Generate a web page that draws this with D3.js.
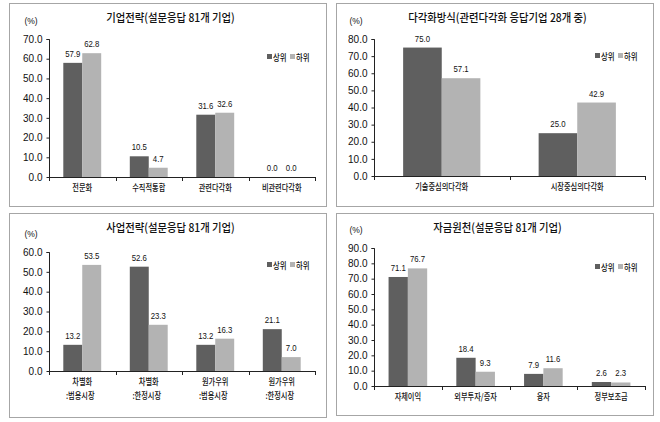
<!DOCTYPE html>
<html><head><meta charset="utf-8">
<script src="https://cdn.jsdelivr.net/npm/d3@7"></script>
<style>
body{margin:0;background:#fff;}
text{font-family:"Liberation Sans",Arial,"Noto Sans CJK KR",sans-serif;fill:#111;}
.kr{font-family:"Noto Sans CJK KR","Liberation Sans",sans-serif;}
</style></head>
<body>
<svg id="c" width="660" height="422"></svg>
<script>
const seriesNames = ["상위", "하위"];

const titles = ["기업전략(설문응답 81개 기업)", "다각화방식(관련다각화 응답기업 28개 중)", "사업전략(설문응답 81개 기업)", "자금원천(설문응답 81개 기업)"];

const cats1 = ["전문화", "수직적통합", "관련다각화", "비관련다각화"];
const top1 = [57.9, 10.5, 31.6, 0.0];
const low1 = [62.8, 4.7, 32.6, 0.0];
const ticks1 = [0, 10, 20, 30, 40, 50, 60, 70];

const cats2 = ["기술중심의다각화", "시장중심의다각화"];
const top2 = [75.0, 25.0];
const low2 = [57.1, 42.9];
const ticks2 = [0, 10, 20, 30, 40, 50, 60, 70, 80];

const cats3 = [["차별화", ":범용시장"], ["차별화", ":한정시장"], ["원가우위", ":범용시장"], ["원가우위", ":한정시장"]];
const top3 = [13.2, 52.6, 13.2, 21.1];
const low3 = [53.5, 23.3, 16.3, 7.0];
const ticks3 = [0, 10, 20, 30, 40, 50, 60];

const cats4 = ["자체이익", "외부투자/증자", "융자", "정부보조금"];
const top4 = [71.1, 18.4, 7.9, 2.6];
const low4 = [76.7, 9.3, 11.6, 2.3];
const ticks4 = [0, 10, 20, 30, 40, 50, 60, 70, 80, 90];

const colors = ["#5f5f5f", "#b3b3b3"];

const svg = d3.select("#c");

function squeeze(t, f) {
  const n = t.node().getComputedTextLength();
  t.attr("textLength", n * f).attr("lengthAdjust", "spacingAndGlyphs");
  return t;
}

const panels = [
  {box:[9,3,326,206], x0:49, x1:315, yTop:39, yBot:177, cats:cats1, a:top1, b:low1, ticks:ticks1, title:titles[0], legend:[267,57]},
  {box:[336,3,653,206], x0:374, x1:645, yTop:39, yBot:176, cats:cats2, a:top2, b:low2, ticks:ticks2, title:titles[1], legend:[595,56]},
  {box:[9,213,326,417], x0:49, x1:315, yTop:252, yBot:371, cats:cats3, a:top3, b:low3, ticks:ticks3, title:titles[2], legend:[267,265]},
  {box:[336,213,653,415], x0:374, x1:645, yTop:248, yBot:386, cats:cats4, a:top4, b:low4, ticks:ticks4, title:titles[3], legend:[595,267]}
];

panels.forEach(p => {
  const g = svg.append("g");
  const [bx0, by0, bx1, by1] = p.box;
  g.append("rect").attr("x", bx0 + 0.5).attr("y", by0 + 0.5).attr("width", bx1 - bx0).attr("height", by1 - by0)
    .attr("fill", "#fff").attr("stroke", "#a6a6a6").attr("stroke-width", 1);

  const idx = p.cats.map((c, i) => i);
  const x = d3.scaleBand().domain(idx).range([p.x0, p.x1]).paddingInner(0).paddingOuter(0);
  const ymax = p.ticks[p.ticks.length - 1];
  const y = d3.scaleLinear().domain([0, ymax]).range([p.yBot, p.yTop]);
  const groupW = x.bandwidth() * 0.57;
  const x1 = d3.scaleBand().domain([0, 1]).range([0, groupW]);

  // title
  squeeze(g.append("text").attr("class", "kr").attr("x", (bx0 + bx1) / 2 + 3).attr("y", by0 + 19)
    .attr("text-anchor", "middle").attr("font-size", 11.5).attr("font-weight", 500).text(p.title), 0.9);
  // unit
  g.append("text").attr("x", p.x0 - 18).attr("y", p.yTop - 15).attr("text-anchor", "middle")
    .attr("font-size", 8.5).text("(%)");

  // y axis
  const yAxis = d3.axisLeft(y).tickValues(p.ticks).tickFormat(d3.format(".1f")).tickSize(3).tickPadding(4);
  const ya = g.append("g").attr("transform", `translate(${p.x0 + 0.5},0)`).call(yAxis);
  ya.selectAll("text").attr("font-size", 10).style("fill", "#111");
  ya.selectAll("line").attr("stroke", "#222");
  ya.select(".domain").attr("stroke", "#222").attr("d", `M-3,${p.yTop + 0.5}H0V${p.yBot + 0.5}`);

  // bars
  const data = [];
  idx.forEach(i => { data.push({i, s:0, v:p.a[i]}); data.push({i, s:1, v:p.b[i]}); });
  g.selectAll("rect.bar").data(data).enter().append("rect").attr("class", "bar")
    .attr("x", d => x(d.i) + (x.bandwidth() - groupW) / 2 + x1(d.s))
    .attr("width", x1.bandwidth())
    .attr("y", d => y(d.v))
    .attr("height", d => y(0) - y(d.v))
    .attr("fill", d => colors[d.s]);

  g.selectAll("text.val").data(data).enter().append("text").attr("class", "val")
    .attr("x", d => x(d.i) + (x.bandwidth() - groupW) / 2 + x1(d.s) + x1.bandwidth() / 2)
    .attr("y", d => y(d.v) - 6)
    .attr("text-anchor", "middle").attr("font-size", 9.5)
    .text(d => d3.format(".1f")(d.v))
    .each(function() { squeeze(d3.select(this), 0.82); });

  // x axis
  g.append("line").attr("x1", p.x0).attr("x2", p.x1).attr("y1", p.yBot + 0.5).attr("y2", p.yBot + 0.5).attr("stroke", "#222");
  const bounds = idx.map(i => x(i)).concat([p.x1]);
  g.selectAll("line.xt").data(bounds).enter().append("line").attr("class", "xt")
    .attr("x1", d => Math.round(d) + 0.5).attr("x2", d => Math.round(d) + 0.5)
    .attr("y1", p.yBot).attr("y2", p.yBot + 4).attr("stroke", "#222");

  // category labels
  idx.forEach(i => {
    const c = p.cats[i];
    const lines = Array.isArray(c) ? c : [c];
    lines.forEach((ln, k) => {
      squeeze(g.append("text").attr("class", "kr").attr("x", x(i) + x.bandwidth() / 2 + (k === 1 ? -2 : 0))
        .attr("y", p.yBot + 14 + k * 14).attr("text-anchor", "middle").attr("font-size", 9).attr("font-weight", 500).text(ln), 0.8);
    });
  });

  // legend
  const [lx, ly] = p.legend;
  let cx = lx;
  seriesNames.forEach((n, s) => {
    g.append("rect").attr("x", cx).attr("y", ly - 3).attr("width", 5).attr("height", 5).attr("fill", colors[s]);
    squeeze(g.append("text").attr("class", "kr").attr("x", cx + 6).attr("y", ly + 3.5).attr("font-size", 9).attr("font-weight", 500).text(n), 0.82);
    cx += 23;
  });
});
</script>
</body></html>
